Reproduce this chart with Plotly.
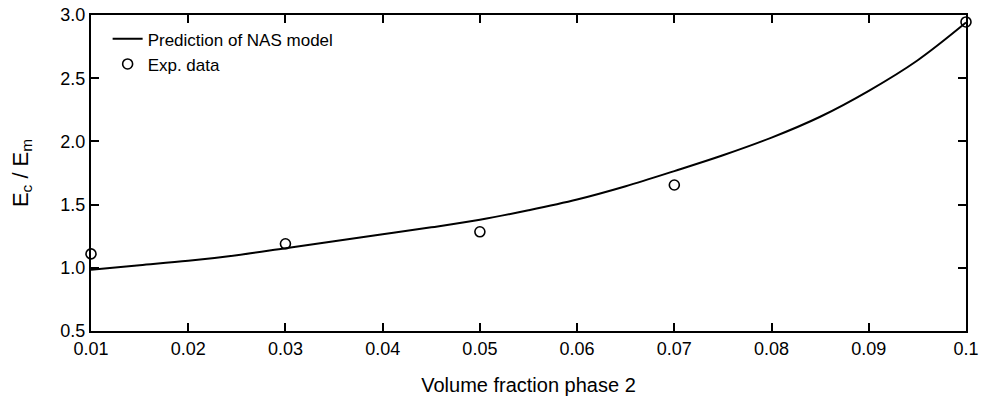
import plotly.graph_objects as go

# Model prediction curve
model_x = [0.010, 0.015, 0.020, 0.025, 0.030, 0.035, 0.040, 0.045, 0.050, 0.055,
           0.060, 0.065, 0.070, 0.075, 0.080, 0.085, 0.090, 0.095, 0.100]
model_y = [0.985, 1.02, 1.055, 1.10, 1.155, 1.21, 1.265, 1.32, 1.38, 1.455,
           1.54, 1.645, 1.765, 1.89, 2.03, 2.195, 2.40, 2.64, 2.94]

# Experimental data
exp_x = [0.01, 0.03, 0.05, 0.07, 0.10]
exp_y = [1.11, 1.19, 1.285, 1.655, 2.945]

x_ticks = [0.01, 0.02, 0.03, 0.04, 0.05, 0.06, 0.07, 0.08, 0.09, 0.1]
x_tick_labels = ["0.01", "0.02", "0.03", "0.04", "0.05", "0.06", "0.07", "0.08", "0.09", "0.1"]
y_ticks = [0.5, 1.0, 1.5, 2.0, 2.5, 3.0]
y_tick_labels = ["0.5", "1.0", "1.5", "2.0", "2.5", "3.0"]

font = "Liberation Sans, Arial, sans-serif"

fig = go.Figure()
fig.add_trace(go.Scatter(
    x=model_x, y=model_y, mode="lines", name="Prediction of NAS model",
    line=dict(color="black", width=2, shape="spline", smoothing=1.0),
    cliponaxis=False,
))
fig.add_trace(go.Scatter(
    x=exp_x, y=exp_y, mode="markers", name="Exp. data",
    marker=dict(symbol="circle-open", size=10, color="black", line=dict(width=1.6, color="black")),
    cliponaxis=False,
))

axis_common = dict(
    showline=True, linecolor="black", linewidth=2, mirror="ticks",
    ticks="inside", ticklen=8, tickwidth=2, tickcolor="black",
    showgrid=False, zeroline=False, automargin=False,
    ticklabeloverflow="allow",
    tickfont=dict(family=font, size=18, color="black"),
)

fig.update_xaxes(
    range=[0.01, 0.1], tickvals=x_ticks, ticktext=x_tick_labels,
    title=dict(text="Volume fraction phase 2", font=dict(family=font, size=20, color="black"), standoff=20),
    **axis_common,
)
fig.update_yaxes(
    range=[0.5, 3.0], tickvals=y_ticks, ticktext=y_tick_labels,
    title=dict(text="E<sub>c</sub> / E<sub>m</sub>", font=dict(family=font, size=22, color="black"), standoff=26),
    **axis_common,
)

fig.update_layout(
    width=986, height=402,
    margin=dict(l=91, r=20, t=15, b=71),
    paper_bgcolor="white", plot_bgcolor="white",
    font=dict(family=font, color="black"),
    showlegend=True,
    legend=dict(
        x=0.019, y=0.98, xanchor="left", yanchor="top",
        bgcolor="rgba(0,0,0,0)", borderwidth=0,
        font=dict(family=font, size=17, color="black"),
        itemwidth=30, tracegroupgap=0,
    ),
)

fig.write_html(
    "out.html",
    config={"displayModeBar": False},
    post_script="document.body.style.margin='0';",
)
